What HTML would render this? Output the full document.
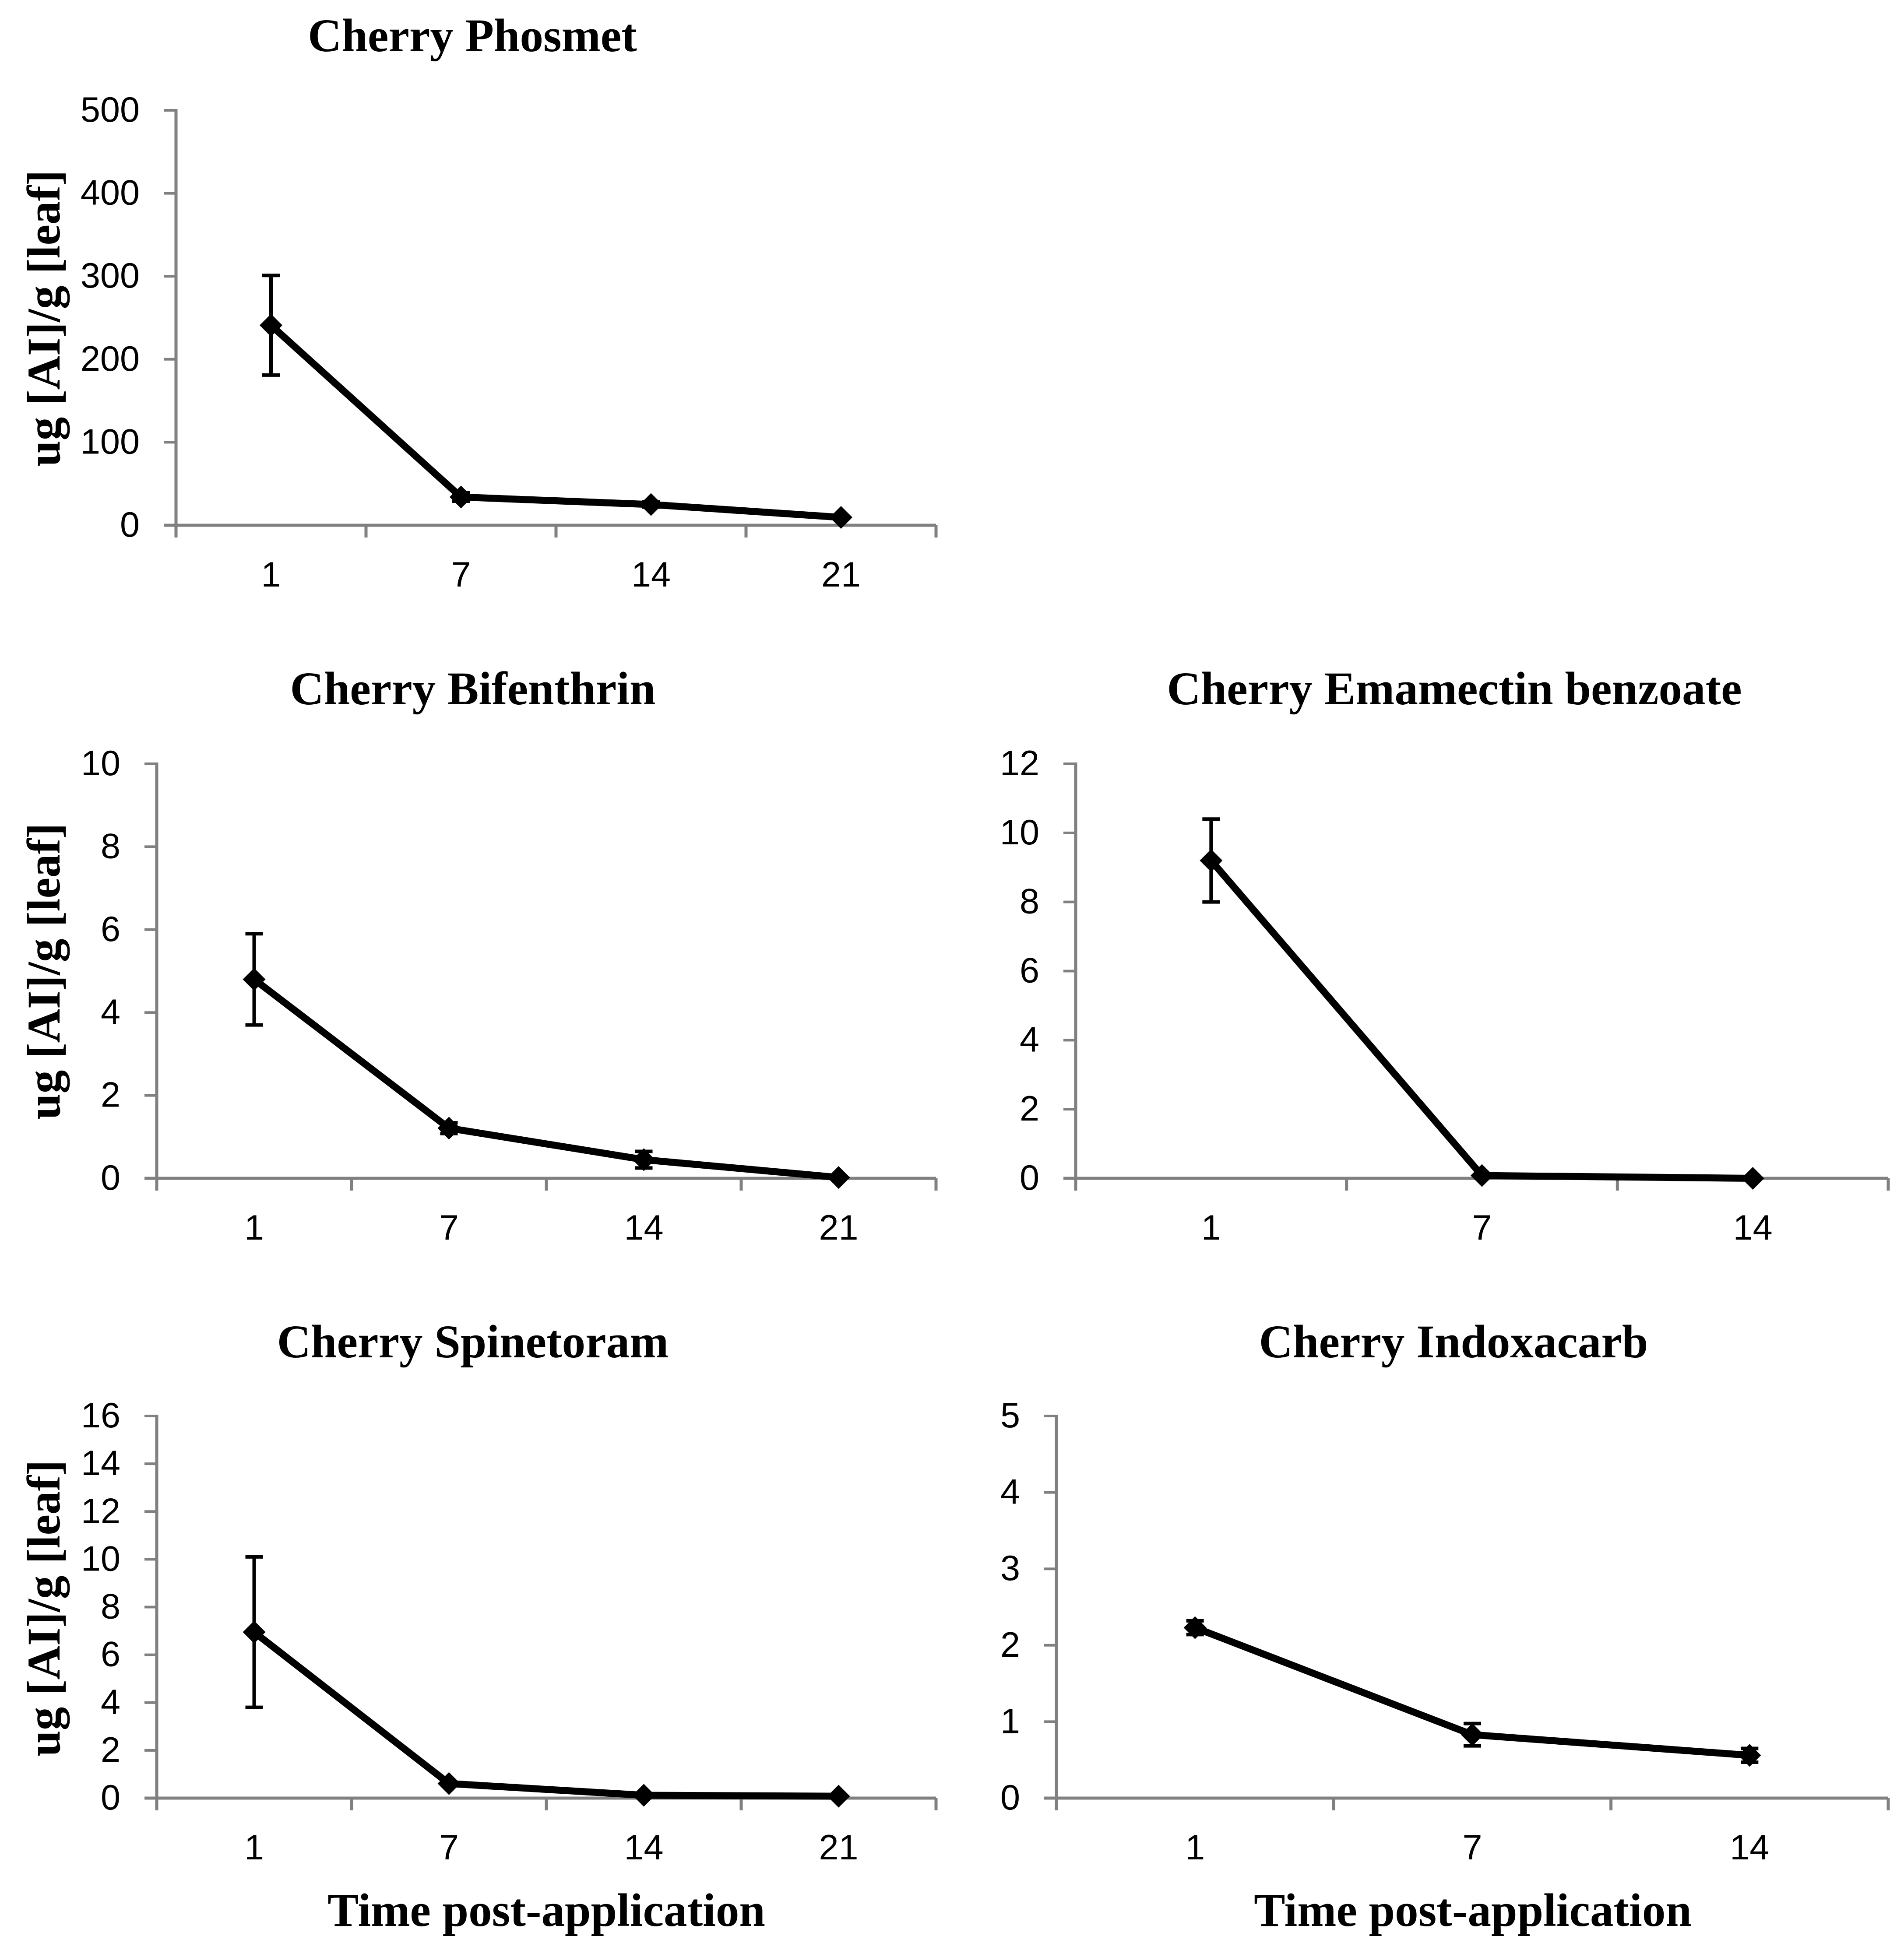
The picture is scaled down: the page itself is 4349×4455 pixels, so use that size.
<!DOCTYPE html>
<html lang="en">
<head>
<meta charset="utf-8">
<title>Cherry leaf residue charts</title>
<style>
html,body{margin:0;padding:0;background:#fff;}
svg{display:block;}
.title,.axis-title{font-family:"Liberation Serif",serif;font-weight:bold;font-size:107px;fill:#000;text-anchor:middle;}
.tick{font-family:"Liberation Sans",sans-serif;font-size:81px;fill:#000;}
</style>
</head>
<body>
<svg xmlns="http://www.w3.org/2000/svg" width="4349" height="4455" viewBox="0 0 4349 4455">
  <rect width="4349" height="4455" fill="#fff"/>

  <g id="phosmet">
    <text class="title" x="1079" y="117">Cherry Phosmet</text>
    <text class="axis-title" transform="translate(136 727) rotate(-90)">ug [AI]/g [leaf]</text>
  </g>
  <g id="bifenthrin">
    <text class="title" x="1080" y="1609">Cherry Bifenthrin</text>
    <text class="axis-title" transform="translate(136 2219) rotate(-90)">ug [AI]/g [leaf]</text>
  </g>
  <g id="emamectin">
    <text class="title" x="3322" y="1609">Cherry Emamectin benzoate</text>
  </g>
  <g id="spinetoram">
    <text class="title" x="1080" y="3101">Cherry Spinetoram</text>
    <text class="axis-title" transform="translate(136 3674) rotate(-90)">ug [AI]/g [leaf]</text>
    <text class="axis-title" x="1248" y="4400">Time post-application</text>
  </g>
  <g id="indoxacarb">
    <text class="title" x="3320" y="3101">Cherry Indoxacarb</text>
    <text class="axis-title" x="3364" y="4400">Time post-application</text>
  </g>
</svg>

<script>
// ---- data ----
const phosmetDays = ["1", "7", "14", "21"];
const phosmetValues = [241, 34, 25, 9.5];
const phosmetErrors = [60, 5, 3, 0];
const phosmetTicks = [0, 100, 200, 300, 400, 500];

const bifenthrinDays = ["1", "7", "14", "21"];
const bifenthrinValues = [4.8, 1.21, 0.45, 0.02];
const bifenthrinErrors = [1.1, 0.13, 0.2, 0];
const bifenthrinTicks = [0, 2, 4, 6, 8, 10];

const emamectinDays = ["1", "7", "14"];
const emamectinValues = [9.2, 0.08, 0];
const emamectinErrors = [1.2, 0, 0];
const emamectinTicks = [0, 2, 4, 6, 8, 10, 12];

const spinetoramDays = ["1", "7", "14", "21"];
const spinetoramValues = [6.95, 0.61, 0.12, 0.08];
const spinetoramErrors = [3.15, 0, 0, 0];
const spinetoramTicks = [0, 2, 4, 6, 8, 10, 12, 14, 16];

const indoxacarbDays = ["1", "7", "14"];
const indoxacarbValues = [2.23, 0.83, 0.56];
const indoxacarbErrors = [0.09, 0.146, 0.09];
const indoxacarbTicks = [0, 1, 2, 3, 4, 5];

// ---- panel layout ----
const panels = [
  {id: "phosmet", left: 402, right: 2138, top: 252, bottom: 1200, days: phosmetDays, values: phosmetValues, errors: phosmetErrors, ticks: phosmetTicks},
  {id: "bifenthrin", left: 358, right: 2138, top: 1745, bottom: 2692, days: bifenthrinDays, values: bifenthrinValues, errors: bifenthrinErrors, ticks: bifenthrinTicks},
  {id: "emamectin", left: 2457, right: 4313, top: 1745, bottom: 2692, days: emamectinDays, values: emamectinValues, errors: emamectinErrors, ticks: emamectinTicks},
  {id: "spinetoram", left: 358, right: 2138, top: 3235, bottom: 4108, days: spinetoramDays, values: spinetoramValues, errors: spinetoramErrors, ticks: spinetoramTicks},
  {id: "indoxacarb", left: 2413, right: 4313, top: 3235, bottom: 4108, days: indoxacarbDays, values: indoxacarbValues, errors: indoxacarbErrors, ticks: indoxacarbTicks}
];

const SVG_NS = "http://www.w3.org/2000/svg";
const AXIS_COLOR = "#808080";

function shape(parent, tag, attrs) {
  const el = document.createElementNS(SVG_NS, tag);
  for (const key in attrs) el.setAttribute(key, attrs[key]);
  parent.appendChild(el);
  return el;
}

function bandWidth(p) { return (p.right - p.left) / p.days.length; }
function xEdge(p, i) { return p.left + i * bandWidth(p); }
function xScale(p, i) { return p.left + (i + 0.5) * bandWidth(p); }
function yScale(p, v) {
  const max = p.ticks[p.ticks.length - 1];
  return p.bottom - (v / max) * (p.bottom - p.top);
}

function drawAxes(p, g) {
  const yAxis = shape(g, "line", {x1: p.left, x2: p.left, y1: p.top - 3, y2: p.bottom + 28, stroke: AXIS_COLOR, "stroke-width": 7});
  
  

  const xAxis = shape(g, "line", {x1: p.left - 28, x2: p.right, y1: p.bottom, y2: p.bottom, stroke: AXIS_COLOR, "stroke-width": 7});
  
  

  p.ticks.forEach(function (t) {
    const y = yScale(p, t);
    if (t !== 0) {
      const mark = shape(g, "line", {x1: p.left - 28, x2: p.left, y1: y, y2: y, stroke: AXIS_COLOR, "stroke-width": 6});
      
      
    }
    const label = shape(g, "text", {class: "tick", x: p.left - 83, y: y + 26, "text-anchor": "end"});
    
    
    label.textContent = t;
  });

  for (let i = 1; i <= p.days.length; i++) {
    const x = xEdge(p, i);
    const mark = shape(g, "line", {x1: x, x2: x, y1: p.bottom, y2: p.bottom + 28, stroke: AXIS_COLOR, "stroke-width": 7});
    
    
  }

  p.days.forEach(function (day, i) {
    const label = shape(g, "text", {class: "tick", x: xScale(p, i), y: p.bottom + 140, "text-anchor": "middle"});
    
    
    label.textContent = day;
  });
}

function drawSeries(p, g) {
  p.values.forEach(function (v, i) {
    const e = p.errors[i];
    if (e <= 0) return;
    const x = xScale(p, i);
    const hi = yScale(p, v + e);
    const lo = yScale(p, v - e);
    const bar = shape(g, "path", {
      d: "M" + x + " " + hi + "V" + lo + "M" + (x - 20) + " " + hi + "H" + (x + 20) + "M" + (x - 20) + " " + lo + "H" + (x + 20),
      fill: "none", stroke: "#000", "stroke-width": 8
    });
    
    
  });

  const pts = p.values.map(function (v, i) { return xScale(p, i) + "," + yScale(p, v); }).join(" ");
  const line = shape(g, "polyline", {points: pts, fill: "none", stroke: "#000", "stroke-width": 16, "stroke-linejoin": "round"});
  
  

  p.values.forEach(function (v, i) {
    const x = xScale(p, i);
    const y = yScale(p, v);
    const r = 26;
    const marker = shape(g, "polygon", {
      points: x + "," + (y - r) + " " + (x + r) + "," + y + " " + x + "," + (y + r) + " " + (x - r) + "," + y,
      fill: "#000"
    });
    
    
  });
}

panels.forEach(function (p) {
  const g = document.getElementById(p.id);
  drawAxes(p, g);
  drawSeries(p, g);
});
</script>
</body>
</html>
